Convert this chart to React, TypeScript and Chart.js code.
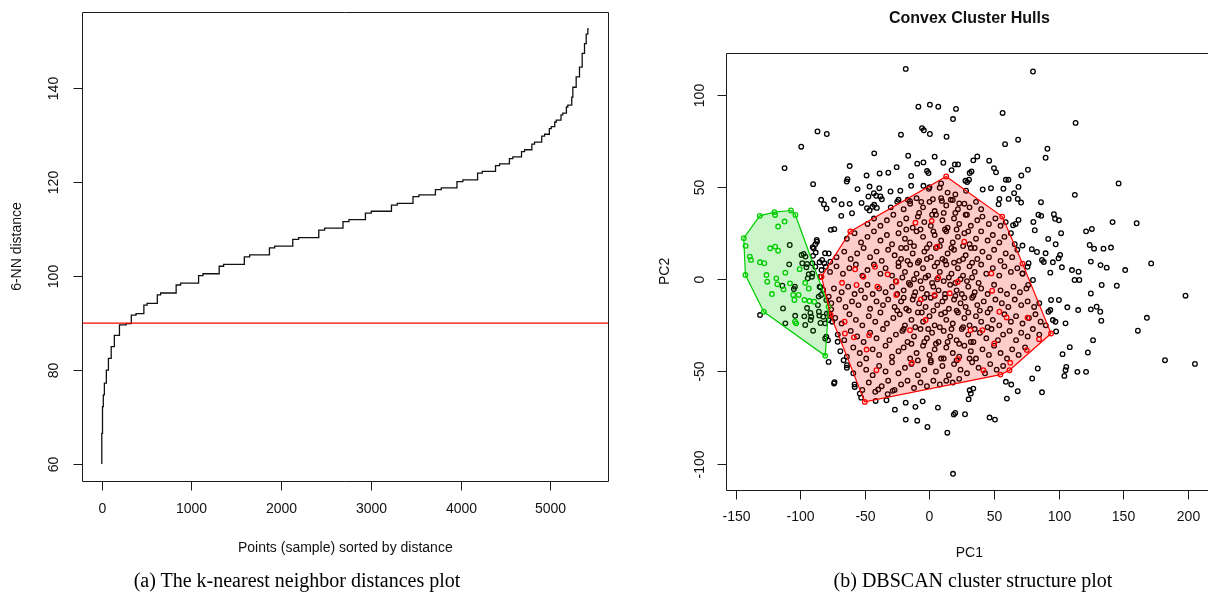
import React, { useEffect, useRef } from 'react';
import { Chart, registerables } from 'chart.js';

Chart.register(...registerables);

// ---------------- (a) k-nearest neighbour distance plot ----------------
const kdistIndex = [1, 9, 18, 30, 52, 75, 106, 141, 198, 273, 330, 383, 470, 506, 620, 657, 830, 880, 1080, 1129, 1310, 1359, 1590, 1649, 1870, 1928, 2130, 2195, 2420, 2485, 2690, 2756, 2940, 3005, 3230, 3295, 3470, 3536, 3720, 3785, 3960, 4026, 4190, 4242, 4390, 4435, 4545, 4583, 4680, 4714, 4795, 4825, 4905, 4937, 4990, 5011, 5050, 5067, 5120, 5140, 5180, 5196, 5240, 5252, 5289, 5326, 5356, 5382, 5401, 5419, 5430];
const kdistValue = [60, 66.5, 72.2, 74.7, 77.2, 80, 82.5, 85, 87.4, 89.6, 89.9, 91.7, 92.0, 93.8, 94.2, 96.0, 96.4, 98.1, 98.5, 100.1, 100.5, 102.1, 102.5, 104.1, 104.5, 106.0, 106.4, 107.8, 108.2, 109.8, 110.2, 111.6, 112.0, 113.4, 113.8, 115.1, 115.5, 116.9, 117.3, 118.4, 118.8, 120.1, 120.5, 121.9, 122.3, 123.5, 123.9, 125.0, 125.4, 126.5, 126.9, 128.1, 128.5, 129.8, 130.2, 131.4, 131.8, 132.8, 133.2, 134.3, 134.7, 136.0, 136.4, 138.1, 140.2, 142.4, 144.5, 147.4, 149.5, 151.5, 152.6];
const epsValue = 90;
const kdistXTicks = [0, 1000, 2000, 3000, 4000, 5000];
const kdistYTicks = [60, 80, 100, 120, 140];

// ---------------- (b) DBSCAN convex cluster hulls ----------------
const noiseOuter: number[][] = [
  [-18.4,114.1],[80.1,112.7],[-8.6,93.6],[0.3,94.7],[6.8,93.6],[20.5,92.4],[18.2,86.9],[56.6,90.2],[113.1,84.8],[-86.7,80.2],[-79.5,78.8],[-22.1,78.4],[-5.8,82.0],[-4.4,80.8],[0.3,78.8],[13.2,77.3],[58.5,73.3],[68.6,75.7],[-99.3,71.9],[91.3,70.8],[89.9,65.9],[-42.8,68.3],[-16.5,67.0],[4.0,66.5],[37.0,66.6],[33.9,64.5],[46.2,64.3],[10.7,63.2],[19.6,62.3],[22.1,62.3],[-9.5,62.7],[-4.7,63.4],[-61.8,61.4],[-112.2,60.3],[-25.4,60.8],[76.2,59.4],[-1.9,58.7],[-0.8,57.6],[49.9,60.3],[51.5,58.0],[32.5,58.5],[31.1,57.6],[17.1,59.2],[-48.7,56.3],[-38.6,57.4],[-31.9,57.8],[-63.5,54.3],[-64.1,53.0],[-90.1,51.6],[59.1,54.0],[-14.2,56.0],[27.8,53.4],[30.6,54.0],[71.1,56.3],
  [-83.9,43.1],[-79.7,38.4],[-81.7,40.7],[-73.9,43.1],[-68.0,40.7],[-61.8,40.9],[-68.3,34.4],[-76.4,26.8],[-55.7,48.9],[-52.6,41.4],[-47.3,44.9],[-43.1,46.7],[-38.9,49.4],[-38.0,44.9],[-44.2,39.3],[-46.4,37.3],[-40.8,38.7],[-36.9,43.4],[-30.2,47.6],[-22.6,48.0],[-24.0,43.1],[-14.2,50.7],[-4.7,50.7],[-0.5,49.1],[7.9,49.6],[-16.8,43.1],[-15.1,42.4],[-6.4,42.0],[2.6,43.4],[9.6,42.5],[16.5,43.1],[23.0,41.1],[29.2,52.7],[28.3,48.0],[41.2,48.7],[47.6,49.4],[54.1,43.6],[57.2,49.1],[61.1,54.0],[65.5,46.7],[68.9,50.1],[70.9,41.6],[68.3,43.6],[61.3,43.6],[53.5,40.7],[86.3,41.8],[112.5,45.8],[146.4,52.0],
  [84.3,35.0],[86.5,34.4],[96.3,35.3],[97.2,32.8],[100.2,32.0],[80.4,31.1],[68.9,32.2],[66.7,30.0],[64.7,29.3],[81.5,26.6],[101.9,25.0],[121.2,26.0],[125.7,27.3],[141.7,31.0],[160.4,30.4],[91.9,21.9],[72.0,18.3],[79.2,16.3],[83.2,14.8],[89.9,14.1],[87.1,10.5],[88.5,9.4],[101.1,13.2],[97.7,19.0],[99.9,11.4],[95.5,9.2],[124.0,18.6],[127.4,16.6],[134.7,16.6],[140.5,17.2],[124.9,9.6],[132.4,7.7],[137.2,6.3],[151.5,5.0],[171.6,8.6],[110.3,5.0],[115.4,4.1],[102.5,6.5],[93.5,3.6],[112.3,-0.4],[116.0,-0.4],[80.1,-0.4],[76.4,-3.1],[76.7,8.7],[75.9,6.8],[72.0,3.2],[133.3,-3.1],[145.0,-3.5],[124.9,-7.7],[198.2,-8.9],
  [18.2,-105.5],[13.8,-83.2],[-1.6,-80.1],[-18.4,-76.1],[-9.5,-76.7],[18.8,-73.4],[19.9,-72.5],[27.5,-73.2],[46.5,-75.0],[50.7,-76.1],[-26.8,-70.7],[-10.9,-69.2],[6.5,-69.6],[-18.4,-66.9],[-5.3,-66.2],[-41.7,-66.0],[-33.3,-65.6],[30.3,-65.1],[59.9,-64.7],[32.0,-62.0],[31.1,-60.2],[33.9,-59.3],[-39.7,-59.8],[-32.4,-62.3],[-28.5,-60.5],[-52.9,-64.2],[-54.0,-62.0],[-57.9,-58.4],[68.3,-60.7],[87.1,-61.3],[63.3,-57.1],[59.1,-55.6],[79.5,-53.8],[83.8,-48.4],[104.4,-52.4],[105.3,-49.3],[105.9,-47.5],[114.5,-50.2],[121.2,-50.2],[103.0,-40.6],[108.6,-36.8],[122.6,-39.7],[126.6,-33.0],[98.0,-28.3],[105.3,-23.9],[97.5,-23.0],[95.5,-22.1],[92.1,-17.6],[93.5,-16.7],[100.2,-11.2],[94.1,-11.2],[106.7,-15.2],[115.1,-16.7],[124.9,-16.3],[129.4,-14.9],[132.2,-17.6],[133.0,-22.5],[161.3,-27.9],[168.3,-20.9],[182.3,-43.9],[205.5,-45.9],
  [-60.0,35.8],[-48.4,38.6],[-42.8,40.4],[-41.3,45.3],[-46.4,50.3],[-73.7,27.2],[-87.1,20.4],[-88.4,19.0],[-89.7,16.8],[-88.1,14.5],[-90.2,12.7],[-85.1,9.2],[-81.4,8.7],[-78.0,14.0],[-76.8,9.5],[-94.8,8.3],[-97.4,13.8],[-95.3,6.5],[-93.5,2.7],[-91.0,1.4],[-94.3,0.5],[-108.2,18.6],[-104.2,-4.0],[-105.0,-5.3],[-113.4,-15.8],[-104.0,-19.8],[-94.8,-15.6],[-92.2,-18.3],[-85.3,-19.7],[-84.4,-23.7],[-96.9,-20.1],[-85.8,-9.4],[-84.5,-4.3],[-79.9,-11.3],[-79.4,-18.5],[-78.1,-22.1],[-79.9,-31.2],[-78.6,-33.0],[-78.1,-44.8],[-66.5,-43.9],[-63.9,-46.6],
  [-108.6,8.1],[-113.9,-3.5],[-99.0,13.2],[-96.0,12.3],[-98.5,8.7],[-90.4,17.4],[-87.3,21.3],[-90.7,8.7],[-83.1,10.5],[-84.5,1.4],[-83.6,5.0],[-88.4,6.8],[-80.9,14.1],[-80.3,6.8],[-90.7,3.2],
  [-73.9,-56.5],[-73.5,-55.8],[-80.8,-32.1],[-71.1,-33.9],[-75.3,-23.0],[-77.5,-18.5],[-131.2,-19.4],[-111.6,-23.9],[-96.2,-24.8],[-90.1,-27.9],[-92.0,-22.1],[-86.4,-14.0],[-83.9,-8.5],[-82.3,-5.8],[-85.1,-4.0],[-78.0,-9.4],[-76.1,-16.3],[-82.3,-20.3],[-80.8,-23.9],[-85.6,-17.6],[-91.5,-20.3]
];

const noiseCore: number[][] = [
  [-74,-5],[-68,-7],[-63,-4],[-58,-8],[-53,-6],[-48,-3],[-44,-8],[-39,-5],[-34,-7],[-29,-4],[-25,-8],[-20,-6],[-15,-3],[-11,-7],[-6,-5],[-2,-8],[3,-4],[7,-6],[12,-8],[16,-3],[21,-6],[25,-8],[30,-4],[35,-7],[40,-5],[45,-8],[50,-3],[55,-6],[60,-8],[65,-4],[70,-7],[75,-5],
  [-76,-13],[-70,-11],[-65,-15],[-60,-12],[-55,-14],[-50,-10],[-46,-16],[-41,-12],[-36,-14],[-32,-11],[-27,-15],[-22,-12],[-18,-16],[-13,-11],[-8,-13],[-3,-15],[1,-10],[6,-14],[10,-12],[15,-16],[19,-11],[24,-13],[28,-15],[33,-10],[37,-14],[42,-12],[47,-16],[51,-11],[56,-13],[61,-15],[66,-11],[71,-14],[76,-12],[81,-15],[85,-13],
  [-73,-21],[-68,-24],[-62,-19],[-57,-22],[-52,-25],[-47,-20],[-42,-23],[-38,-18],[-33,-24],[-28,-21],[-23,-19],[-19,-25],[-14,-22],[-9,-18],[-5,-23],[0,-20],[4,-25],[9,-19],[13,-22],[18,-24],[22,-18],[27,-21],[31,-25],[36,-20],[40,-23],[45,-18],[49,-22],[54,-25],[58,-19],[63,-23],[67,-20],[72,-24],[77,-21],[82,-19],[86,-23],[90,-25],
  [-71,-30],[-66,-33],[-61,-28],[-56,-31],[-51,-34],[-46,-29],[-41,-32],[-36,-27],[-31,-33],[-26,-30],[-21,-28],[-17,-34],[-12,-31],[-7,-27],[-2,-32],[2,-29],[7,-34],[11,-28],[16,-31],[21,-33],[25,-27],[30,-30],[34,-34],[39,-29],[44,-32],[48,-27],[53,-33],[57,-30],[62,-28],[67,-33],[71,-29],[76,-31],[80,-27],[85,-30],
  [-69,-39],[-64,-42],[-59,-37],[-54,-40],[-49,-43],[-44,-38],[-39,-41],[-34,-36],[-29,-42],[-24,-39],[-20,-37],[-15,-43],[-10,-40],[-5,-36],[0,-41],[4,-38],[9,-43],[13,-37],[18,-40],[23,-42],[27,-36],[32,-39],[36,-43],[41,-38],[46,-41],[50,-36],[55,-40],[60,-43],[64,-38],[69,-41],[74,-37],
  [-64,-48],[-59,-51],[-54,-46],[-49,-49],[-44,-52],[-39,-47],[-34,-50],[-29,-45],[-24,-51],[-19,-48],[-14,-46],[-9,-52],[-4,-49],[1,-45],[5,-50],[10,-47],[15,-52],[19,-46],[24,-49],[29,-51],[33,-45],[38,-48],[43,-51],[47,-46],[52,-49],[57,-47],
  [-58,-57],[-52,-60],[-47,-56],[-42,-61],[-37,-58],[-32,-55],[-27,-60],[-22,-57],[-17,-55],[-12,-59],[-7,-56],[-2,-58],[3,-55],[8,-57],[13,-55],[18,-56],[23,-54],
  [-77,4],[-72,7],[-67,3],[-62,6],[-57,8],[-52,2],[-48,5],[-43,8],[-38,3],[-34,6],[-29,2],[-24,7],[-19,4],[-15,8],[-10,3],[-5,6],[-1,2],[4,7],[8,4],[13,8],[17,3],[22,6],[26,2],[31,7],[35,4],[40,8],[44,3],[49,6],[54,2],[58,7],[63,4],[68,6],[72,3],
  [-72,12],[-66,15],[-61,11],[-56,14],[-51,17],[-46,12],[-41,15],[-37,10],[-32,16],[-27,13],[-22,11],[-18,17],[-13,14],[-8,10],[-4,15],[1,12],[5,17],[10,11],[14,14],[19,16],[23,10],[28,13],[32,17],[37,11],[41,15],[46,12],[50,16],[55,10],[59,14],[64,12],[68,16],
  [-64,22],[-58,25],[-53,20],[-48,23],[-43,26],[-38,21],[-33,24],[-29,19],[-24,25],[-19,22],[-15,20],[-10,26],[-5,23],[0,19],[4,24],[9,21],[13,26],[18,20],[22,23],[27,25],[31,19],[36,22],[40,26],[45,21],[49,24],[54,20],[58,23],[63,25],[66,19],
  [-48,30],[-43,33],[-38,29],[-33,32],[-28,35],[-23,30],[-18,33],[-13,28],[-9,34],[-4,31],[1,29],[5,35],[10,32],[14,28],[19,33],[23,30],[28,35],[32,29],[37,32],[41,34],[46,30],[51,33],[55,29],[59,31],
  [-30,39],[-25,42],[-20,38],[-15,41],[-10,44],[-5,39],[0,42],[4,37],[9,44],[13,40],[18,43],[22,38],[27,41],[31,39],[36,42],[40,38],
  [0,50],[9,52],[14,47],[20,46],
  [-26,-1],[-21,1],[-16,-2],[-12,0],[-7,-1],[-3,1],[2,-2],[6,0],[11,-1],[15,1],[20,-2],[24,0],[29,-1],[33,1],[38,-2],
  [-24,9],[-17,10],[-9,9],[-2,11],[6,9],[12,10],[19,9],[26,11],[33,9],[-20,-10],[-12,-9],[-4,-10],[4,-9],[12,-10],[20,-9],[27,-10],[34,-9],
  [-22,17],[-12,18],[-2,17],[8,18],[17,17],[26,18],[35,17],[-25,-17],[-16,-17],[-6,-18],[3,-17],[12,-18],[21,-17],[30,-18],[39,-17],
  [-18,27],[-7,27],[3,26],[12,27],[21,27],[30,26],[-20,-27],[-11,-26],[-1,-27],[8,-26],[17,-27],[26,-26],[35,-27],[45,-26],
  [-8,36],[2,35],[11,36],[20,36],[29,35],[-14,-35],[-4,-34],[5,-35],[14,-34],[23,-35],[32,-34],
  [-9,-44],[1,-44],[11,-43],[21,-44],[31,-43]
];

const cluster1Points: number[][] = [
  [-83.6,1.4],[-61.3,25.9],[12.9,55.8],[56.3,34.0],[72.0,8.5],[94.1,-29.4],[61.9,-49.3],[54.9,-51.7],[-50.1,-66.5],[-76.6,-19.4],
  [-10.9,30.7],[1.7,31.7],[5.9,17.7],[26.9,20.4],[-42.2,6.8],[-57.6,5.4],[-51.2,1.4],[-67.7,-1.9],[-32.4,2.7],[47.9,3.2],[6.8,0.9],[21.9,-1.3],[-25.7,-1.3],[-56.5,-3.1],[-40.3,-4.0],[-25.7,-8.5],[-6.7,-10.9],[3.9,-8.5],[15.7,-7.6],[48.5,-6.2],[54.1,-17.6],[59.7,-20.7],[75.9,-20.9],[-65.7,-23.0],[-65.5,-29.4],[-58.5,-31.5],[-48.7,-38.1],[-46.7,-30.3],[-15.1,-27.6],[-13.7,-45.3],[-3.0,-22.1],[22.2,-43.3],[31.7,-27.6],[40.9,-27.6],[50.1,-34.8],[62.5,-45.3],[75.3,-38.4],[84.8,-32.5],[41.7,-49.3],[-41.1,-49.3]
];

const cluster2Points: number[][] = [
  [-143.8,22.3],[-131.4,34.4],[-120.0,36.4],[-107.2,37.3],[-103.8,34.9],[-78.1,-14.9],[-80.7,-41.5],[-128.3,-17.6],[-142.5,2.3],
  [-142.4,18.1],[-139.1,12.3],[-138.2,10.5],[-119.5,34.9],[-112.2,31.3],[-117.2,28.6],[-123.4,16.8],[-119.5,17.7],[-117.2,15.5],[-131.2,9.2],[-127.9,8.7],[-126.2,2.3],[-118.6,0.5],[-111.6,3.6],[-96.2,-1.9],[-122.0,-8.0],[-105.5,-8.5],[-101.3,-8.5],[-96.8,-11.2],[-92.9,-11.8],[-89.2,-12.2],[-104.6,-11.2],[-104.1,-23.0],[-103.2,-23.9],[-113.0,-5.5],[-117.8,-2.7],[-108.0,-2.2],[-125.6,-1.3],[-100.5,5.5],[-93.5,-5.0]
];

const cluster1Hull: number[][] = [[-83.6,1.4],[-61.3,25.9],[12.9,55.8],[56.3,34.0],[72.0,8.5],[94.1,-29.4],[61.9,-49.3],[54.9,-51.7],[-50.1,-66.5],[-76.6,-19.4]];
const cluster2Hull: number[][] = [[-143.8,22.3],[-131.4,34.4],[-120.0,36.4],[-107.2,37.3],[-103.8,34.9],[-78.1,-14.9],[-80.7,-41.5],[-128.3,-17.6],[-142.5,2.3]];

const pcXTicks = [-150, -100, -50, 0, 50, 100, 150, 200];
const pcYTicks = [-100, -50, 0, 50, 100];

// ---------------- helpers ----------------
function rRange(vals: number[]) {
  const lo = Math.min(...vals);
  const hi = Math.max(...vals);
  const e = (hi - lo) * 0.04;
  return [lo - e, hi + e];
}
const toXY = (pts: number[][]) => pts.map((p) => ({ x: p[0], y: p[1] }));
const closed = (pts: number[][]) => toXY([...pts, pts[0]]);

const SANS = '"Liberation Sans", Arial, sans-serif';

function makeAxesPlugin(o: any) {
  return {
    id: 'rAxes',
    afterDraw(chart: any) {
      const { ctx, chartArea: a } = chart;
      const xs = chart.scales.x;
      const ys = chart.scales.y;
      ctx.save();
      ctx.strokeStyle = '#1a1a1a';
      ctx.fillStyle = '#111';
      ctx.lineWidth = 1;
      const L = Math.round(a.left) + 0.5, T = Math.round(a.top) + 0.5;
      const R = Math.round(a.right) + 0.5, B = Math.round(a.bottom) + 0.5;
      ctx.beginPath();
      ctx.moveTo(L, T); ctx.lineTo(R, T); ctx.lineTo(R, B); ctx.lineTo(L, B); ctx.closePath();
      ctx.stroke();
      ctx.font = '14px ' + SANS;
      ctx.textAlign = 'center';
      ctx.textBaseline = 'middle';
      for (const v of o.xTicks) {
        const px = Math.round(xs.getPixelForValue(v)) + 0.5;
        ctx.beginPath(); ctx.moveTo(px, B); ctx.lineTo(px, B + 9); ctx.stroke();
        ctx.fillText(String(v), px, B + o.xLabelOff);
      }
      for (const v of o.yTicks) {
        const py = Math.round(ys.getPixelForValue(v)) + 0.5;
        ctx.beginPath(); ctx.moveTo(L - 9, py); ctx.lineTo(L, py); ctx.stroke();
        ctx.save();
        ctx.translate(L - o.yLabelOff, py);
        ctx.rotate(-Math.PI / 2);
        ctx.fillText(String(v), 0, 0);
        ctx.restore();
      }
      const cx = (a.left + a.right) / 2;
      const cy = (a.top + a.bottom) / 2;
      ctx.fillText(o.xTitle, cx, B + o.xTitleOff);
      ctx.save();
      ctx.translate(o.yTitleX, cy);
      ctx.rotate(-Math.PI / 2);
      ctx.fillText(o.yTitle, 0, 0);
      ctx.restore();
      if (o.title) {
        ctx.font = 'bold 16px ' + SANS;
        ctx.fillText(o.title, cx, o.titleY);
      }
      ctx.restore();
    },
  };
}

export default function App() {
  const leftRef = useRef<HTMLCanvasElement>(null);
  const rightRef = useRef<HTMLCanvasElement>(null);

  useEffect(() => {
    const [kxLo, kxHi] = rRange(kdistIndex);
    const [kyLo, kyHi] = rRange(kdistValue);

    const left = new Chart(leftRef.current as HTMLCanvasElement, {
      type: 'scatter',
      data: {
        datasets: [
          {
            data: [{ x: kxLo, y: epsValue }, { x: kxHi, y: epsValue }],
            showLine: true,
            borderColor: '#ff0000',
            borderWidth: 1.2,
            pointRadius: 0,
          },
          {
            data: kdistIndex.map((x, i) => ({ x, y: kdistValue[i] })),
            showLine: true,
            stepped: 'after',
            borderColor: '#111',
            borderWidth: 1.3,
            pointRadius: 0,
          },
        ],
      } as any,
      options: {
        responsive: false,
        animation: false,
        devicePixelRatio: 1,
        events: [],
        layout: { padding: { left: 82.3, top: 11.6, right: 640 - 608.3, bottom: 593 - 481.4 } },
        scales: {
          x: { type: 'linear', min: kxLo, max: kxHi, display: false },
          y: { type: 'linear', min: kyLo, max: kyHi, display: false },
        },
        plugins: { legend: { display: false }, tooltip: { enabled: false } },
      } as any,
      plugins: [
        makeAxesPlugin({
          xTicks: kdistXTicks,
          yTicks: kdistYTicks,
          xLabelOff: 28,
          yLabelOff: 28,
          xTitle: 'Points (sample) sorted by distance',
          xTitleOff: 67,
          yTitle: '6-NN distance',
          yTitleX: 17,
        }),
      ],
    });

    const allPts = [...noiseOuter, ...noiseCore, ...cluster1Points, ...cluster2Points];
    const [pxLo, pxHi] = rRange(allPts.map((p) => p[0]));
    const [pyLo, pyHi] = rRange(allPts.map((p) => p[1]));
    const pointDs = (pts: number[][], color: string) => ({
      data: toXY(pts),
      showLine: false,
      pointRadius: 2.3,
      pointBorderWidth: 1.3,
      pointBorderColor: color,
      pointBackgroundColor: 'rgba(0,0,0,0)',
    });
    const hullDs = (pts: number[][], line: string, fill: string) => ({
      data: closed(pts),
      showLine: true,
      fill: 'shape',
      borderColor: line,
      backgroundColor: fill,
      borderWidth: 1.2,
      pointRadius: 0,
      tension: 0,
    });

    const right = new Chart(rightRef.current as HTMLCanvasElement, {
      type: 'scatter',
      data: {
        datasets: [
          hullDs(cluster1Hull, '#ff0000', 'rgba(255,0,0,0.2)'),
          hullDs(cluster2Hull, '#00cd00', 'rgba(0,205,0,0.2)'),
          pointDs(cluster1Points, '#ff0000'),
          pointDs(cluster2Points, '#00cd00'),
          pointDs(noiseCore, '#000'),
          pointDs(noiseOuter, '#000'),
        ],
      } as any,
      options: {
        responsive: false,
        animation: false,
        devicePixelRatio: 1,
        events: [],
        layout: { padding: { left: 85.7, top: 52.7, right: 7, bottom: 593 - 490 } },
        scales: {
          x: { type: 'linear', min: pxLo, max: pxHi, display: false },
          y: { type: 'linear', min: pyLo, max: pyHi, display: false },
        },
        plugins: { legend: { display: false }, tooltip: { enabled: false } },
      } as any,
      plugins: [
        makeAxesPlugin({
          xTicks: pcXTicks,
          yTicks: pcYTicks,
          xLabelOff: 27,
          yLabelOff: 26,
          xTitle: 'PC1',
          xTitleOff: 63,
          yTitle: 'PC2',
          yTitleX: 25,
          title: 'Convex Cluster Hulls',
          titleY: 18.5,
        }),
      ],
    });

    return () => {
      left.destroy();
      right.destroy();
    };
  }, []);

  const caption: React.CSSProperties = {
    position: 'absolute',
    top: 568,
    width: 420,
    textAlign: 'center',
    font: '20px "Liberation Serif", "Times New Roman", serif',
    lineHeight: '24px',
    color: '#000',
    whiteSpace: 'nowrap',
  };

  return (
    <div style={{ position: 'fixed', left: 0, top: 0, width: 1208, height: 593, overflow: 'hidden', background: '#fff' }}>
      <canvas ref={leftRef} width={640} height={593} style={{ position: 'absolute', left: 0, top: 0, width: 640, height: 593 }} />
      <canvas ref={rightRef} width={580} height={593} style={{ position: 'absolute', left: 640, top: 0, width: 580, height: 593 }} />
      <div style={{ ...caption, left: 297 - 210 }}>(a) The k-nearest neighbor distances plot</div>
      <div style={{ ...caption, left: 973 - 210 }}>(b) DBSCAN cluster structure plot</div>
    </div>
  );
}
